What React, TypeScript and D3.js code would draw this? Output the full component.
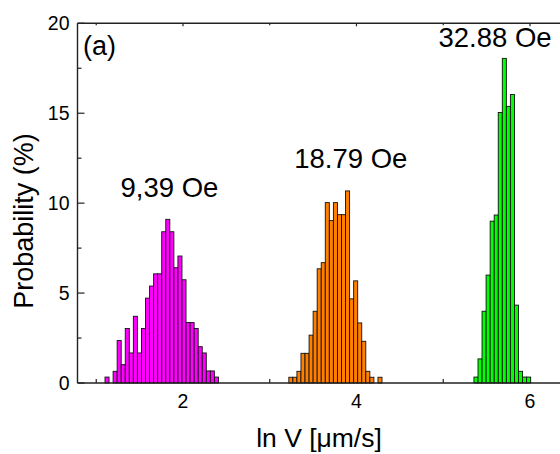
import * as d3 from 'd3';

// --- data ---
const binWidth = 0.0467; // histogram bin width in ln V units

const magentaStart = 1.101;
const magentaProb = [0.33, 0, 0.65, 2.36, 1.02, 3.03, 1.67, 3.71, 1.67, 3.03, 4.72, 5.39, 6.07, 6.07,
  8.41, 9.10, 8.41, 6.41, 7.06, 5.74, 3.36, 3.36, 3.03, 2.02, 1.67, 0.67, 0.67, 0.33];

const orangeStart = 3.22;
const orangeProb = [0.32, 0.32, 0.65, 1.65, 1.65, 2.66, 3.99, 6.35, 6.69, 10.03, 9.03, 10.03, 9.36,
  9.36, 10.68, 4.68, 5.68, 3.34, 2.32, 0.65, 0.32, 0, 0.32];

const greenStart = 5.354;
const greenProb = [0.33, 1.34, 3.99, 6.0, 9.0, 9.34, 15.04, 18.05, 15.38, 16.04, 4.33, 0.65, 0.33, 0.33];

const fieldLabels = ['9,39 Oe', '18.79 Oe', '32.88 Oe'];
const labelX = [1.844, 3.934, 5.597];
const labelY = [10.36, 11.94, 18.7];

const xMajor = [2, 4, 6];
const xMinor = [1, 3, 5];
const yMajor = [0, 5, 10, 15, 20];
const yMinor = [2.5, 7.5, 12.5, 17.5];

const W = 560;
const H = 454;
const FONT = "'Liberation Sans', Arial, sans-serif";

export default function App() {
  const left = 77.5, top = 23.3, bottom = 383;
  const x = d3.scaleLinear().domain([0.784, 6.5]).range([left, left + 5.716 * 86.75]);
  const y = d3.scaleLinear().domain([0, 20]).range([bottom, top]);
  const bw = x(binWidth) - x(0);

  const series = [
    { start: magentaStart, probs: magentaProb, fill: '#ff00ff' },
    { start: orangeStart, probs: orangeProb, fill: '#ff8000' },
    { start: greenStart, probs: greenProb, fill: '#00ff00' },
  ];

  const axisColor = '#222';

  return (
    <div style={{ position: 'absolute', left: 0, top: 0 }}>
      <svg width={W} height={H} style={{ display: 'block', fontFamily: FONT }}>
        <rect width={W} height={H} fill="#fff" />

        {/* ticks (inward) */}
        {yMajor.map(v => (
          <line key={'ym' + v} x1={left} x2={left + 7} y1={y(v)} y2={y(v)} stroke={axisColor} strokeWidth={1.2} />
        ))}
        {yMinor.map(v => (
          <line key={'yn' + v} x1={left} x2={left + 4} y1={y(v)} y2={y(v)} stroke={axisColor} strokeWidth={1.2} />
        ))}
        {xMajor.map(v => (
          <g key={'xm' + v}>
            <line x1={x(v)} x2={x(v)} y1={bottom} y2={bottom - 6} stroke={axisColor} strokeWidth={1.2} />
            <line x1={x(v)} x2={x(v)} y1={top} y2={top + 3} stroke={axisColor} strokeWidth={1.2} />
          </g>
        ))}
        {xMinor.map(v => (
          <g key={'xn' + v}>
            <line x1={x(v)} x2={x(v)} y1={bottom} y2={bottom - 4} stroke={axisColor} strokeWidth={1.2} />
            <line x1={x(v)} x2={x(v)} y1={top} y2={top + 2} stroke={axisColor} strokeWidth={1.2} />
          </g>
        ))}

        {/* histogram bars */}
        {series.map((s, si) => (
          <g key={'s' + si}>
            {s.probs.map((p, i) => p > 0 ? (
              <rect key={i}
                x={x(s.start + i * binWidth)}
                y={y(p)}
                width={bw}
                height={y(0) - y(p)}
                fill={s.fill}
                stroke="#111"
                strokeWidth={0.9} />
            ) : null)}
          </g>
        ))}

        {/* frame */}
        <line x1={left} x2={W} y1={bottom} y2={bottom} stroke={axisColor} strokeWidth={1.4} />
        <line x1={left} x2={W} y1={top} y2={top} stroke={axisColor} strokeWidth={1.4} />
        <line x1={left} x2={left} y1={top} y2={bottom} stroke={axisColor} strokeWidth={1.4} />

        {/* tick labels */}
        {yMajor.map(v => (
          <text key={'yl' + v} x={left - 8} y={y(v)} dy="0.36em" textAnchor="end" fontSize={19.5} fill="#000">{v}</text>
        ))}
        {xMajor.map(v => (
          <text key={'xl' + v} x={x(v)} y={408} textAnchor="middle" fontSize={19.5} fill="#000">{v}</text>
        ))}

        {/* annotations */}
        {fieldLabels.map((t, i) => (
          <text key={t} x={x(labelX[i])} y={y(labelY[i])} textAnchor="middle" fontSize={27.5} fill="#000">{t}</text>
        ))}
        <text x={83} y={55} fontSize={27} fill="#000">(a)</text>

        {/* axis titles */}
        <text x={319} y={447} textAnchor="middle" fontSize={26.5} fill="#000">ln V [μm/s]</text>
        <text transform="translate(33,221) rotate(-90)" textAnchor="middle" fontSize={27} fill="#000">Probability (%)</text>
      </svg>
    </div>
  );
}
